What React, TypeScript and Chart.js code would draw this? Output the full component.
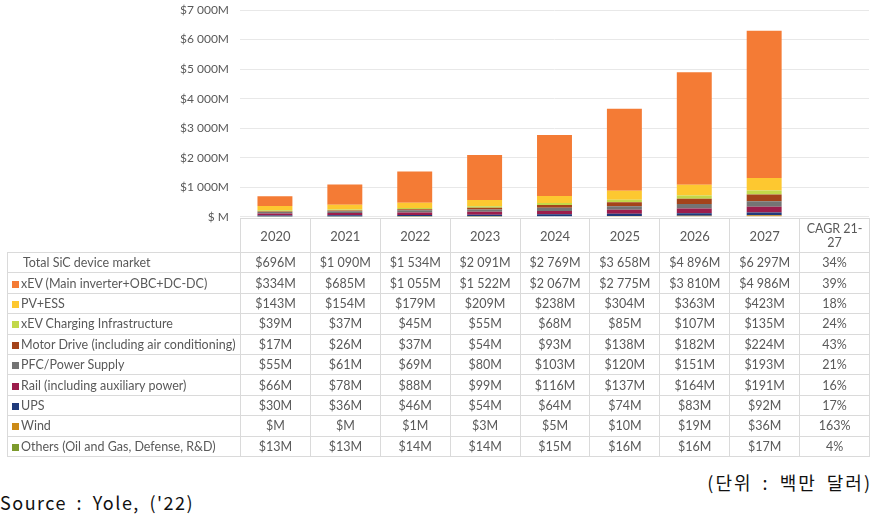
import React, { useEffect, useRef } from "react";
import { Chart, registerables } from "chart.js";

Chart.register(...registerables);

const years = ["2020", "2021", "2022", "2023", "2024", "2025", "2026", "2027"];
const cagrHeader = "CAGR 21-27";
const categories = [...years, cagrHeader];

const totalLabel = "Total SiC device market";
const totalValues = [696, 1090, 1534, 2091, 2769, 3658, 4896, 6297];
const totalCagr = "34%";

const seriesNames = [
  "xEV (Main inverter+OBC+DC-DC)",
  "PV+ESS",
  "xEV Charging Infrastructure",
  "Motor Drive (including air conditioning)",
  "PFC/Power Supply",
  "Rail (including auxiliary power)",
  "UPS",
  "Wind",
  "Others (Oil and Gas, Defense, R&D)",
];

const xevValues = [334, 685, 1055, 1522, 2067, 2775, 3810, 4986];
const pvValues = [143, 154, 179, 209, 238, 304, 363, 423];
const chargingValues = [39, 37, 45, 55, 68, 85, 107, 135];
const motorValues = [17, 26, 37, 54, 93, 138, 182, 224];
const pfcValues = [55, 61, 69, 80, 103, 120, 151, 193];
const railValues = [66, 78, 88, 99, 116, 137, 164, 191];
const upsValues = [30, 36, 46, 54, 64, 74, 83, 92];
const windValues = [0, 0, 1, 3, 5, 10, 19, 36];
const othersValues = [13, 13, 14, 14, 15, 16, 16, 17];

const seriesValues = [
  xevValues,
  pvValues,
  chargingValues,
  motorValues,
  pfcValues,
  railValues,
  upsValues,
  windValues,
  othersValues,
];

const seriesCagr = ["39%", "18%", "24%", "43%", "21%", "16%", "17%", "163%", "4%"];

const seriesColors = [
  "#F47B35",
  "#FDC830",
  "#C2D84A",
  "#A4431A",
  "#747474",
  "#9C1D4C",
  "#1F3A7C",
  "#CB8A17",
  "#7C9A2C",
];

const yTicks = [0, 1000, 2000, 3000, 4000, 5000, 6000, 7000];

const unitText = "(단위 : 백만 달러)";
const sourceText = "Source : Yole, ('22)";

function groupThousands(v: number): string {
  const s = String(Math.round(v));
  return s.replace(/\B(?=(\d{3})+(?!\d))/g, " ");
}
function fmtCell(v: number): string {
  return v === 0 ? "$M" : "$" + groupThousands(v) + "M";
}
function fmtAxis(v: number): string {
  return v === 0 ? "$ M" : "$" + groupThousands(v) + "M";
}

const FONT = "Lato, 'Open Sans', sans-serif";
const GREY = "#595959";
const BORDER = "1px solid #DADADA";

export default function App() {
  const ref = useRef<HTMLCanvasElement | null>(null);

  useEffect(() => {
    if (!ref.current) return;
    const order = seriesNames.map((_, i) => i).reverse();
    const chart = new Chart(ref.current, {
      type: "bar",
      data: {
        labels: categories,
        datasets: order.map((i) => ({
          label: seriesNames[i],
          data: seriesValues[i],
          backgroundColor: seriesColors[i],
          borderWidth: 0,
          barPercentage: 0.5,
          categoryPercentage: 1,
        })),
      },
      options: {
        responsive: false,
        animation: false,
        plugins: { legend: { display: false }, tooltip: { enabled: false } },
        layout: { padding: { top: 10, right: 5, bottom: 3, left: 0 } },
        scales: {
          x: { stacked: true, display: false },
          y: {
            stacked: true,
            min: 0,
            max: 7000,
            afterFit: (s: any) => {
              s.width = 240;
            },
            afterBuildTicks: (s: any) => {
              s.ticks = yTicks.map((v) => ({ value: v }));
            },
            border: { display: false },
            grid: { color: "#E8E8E8", drawTicks: true, tickLength: 11, tickColor: "rgba(0,0,0,0)" },
            ticks: {
              padding: 0,
              color: GREY,
              font: { family: "Lato", size: 12 },
              callback: (v: any) => fmtAxis(Number(v)),
            },
          },
        },
      },
    });
    return () => chart.destroy();
  }, []);

  const colW = 69.9;
  const firstW = 233;
  const headH = 34;
  const rowH = 20.4;

  const cellBase: React.CSSProperties = {
    border: BORDER,
    padding: 0,
    textAlign: "center",
    verticalAlign: "middle",
    whiteSpace: "nowrap",
    overflow: "hidden",
  };

  const rows = [
    { name: totalLabel, values: totalValues, cagr: totalCagr, color: null as string | null },
    ...seriesNames.map((n, i) => ({
      name: n,
      values: seriesValues[i],
      cagr: seriesCagr[i],
      color: seriesColors[i],
    })),
  ];

  return (
    <div
      style={{
        position: "absolute",
        left: 0,
        top: 0,
        width: 874,
        height: 522,
        background: "#fff",
        overflow: "hidden",
        fontFamily: FONT,
      }}
    >
      <canvas
        ref={ref}
        width={874}
        height={224}
        style={{ position: "absolute", left: 0, top: 0, width: 874, height: 224, display: "block" }}
      />
      <table
        style={{
          position: "absolute",
          left: 7,
          top: 218,
          width: firstW + colW * 9,
          borderCollapse: "collapse",
          tableLayout: "fixed",
          fontFamily: FONT,
          fontSize: 12.5,
          color: GREY,
          background: "transparent",
        }}
      >
        <colgroup>
          <col style={{ width: firstW }} />
          {categories.map((c) => (
            <col key={c} style={{ width: colW }} />
          ))}
        </colgroup>
        <tbody>
          <tr style={{ height: headH }}>
            <td style={{ padding: 0, border: "none", borderBottom: BORDER }} />
            {years.map((y) => (
              <td key={y} style={{ ...cellBase, fontSize: 13, background: "#fff" }}>
                {y}
              </td>
            ))}
            <td
              style={{
                ...cellBase,
                fontSize: 12.5,
                lineHeight: "14px",
                whiteSpace: "normal",
                background: "#fff",
              }}
            >
              CAGR 21-
              <br />
              27
            </td>
          </tr>
          {rows.map((r) => (
            <tr key={r.name} style={{ height: rowH }}>
              <td
                style={{
                  ...cellBase,
                  textAlign: "left",
                  paddingLeft: r.color ? 4 : 15,
                  background: "#fff",
                }}
              >
                {r.color && (
                  <span
                    style={{
                      display: "inline-block",
                      width: 7,
                      height: 7,
                      background: r.color,
                      marginRight: 2,
                      verticalAlign: "0px",
                    }}
                  />
                )}
                {r.name}
              </td>
              {r.values.map((v, j) => (
                <td key={j} style={{ ...cellBase, background: "#fff" }}>
                  {fmtCell(v)}
                </td>
              ))}
              <td style={{ ...cellBase, background: "#fff" }}>{r.cagr}</td>
            </tr>
          ))}
        </tbody>
      </table>
      <div
        style={{
          position: "absolute",
          right: 2,
          top: 470,
          fontFamily: "'Noto Sans CJK KR', sans-serif",
          fontSize: 18,
          letterSpacing: "2px",
          wordSpacing: "4px",
          color: "#111",
          whiteSpace: "pre",
          lineHeight: "24px",
        }}
      >
        {unitText}
      </div>
      <div
        style={{
          position: "absolute",
          left: 0,
          top: 490,
          fontFamily: "'Noto Sans CJK KR', sans-serif",
          fontSize: 18,
          letterSpacing: "1.5px",
          wordSpacing: "4px",
          color: "#111",
          whiteSpace: "pre",
          lineHeight: "24px",
        }}
      >
        {sourceText}
      </div>
    </div>
  );
}
